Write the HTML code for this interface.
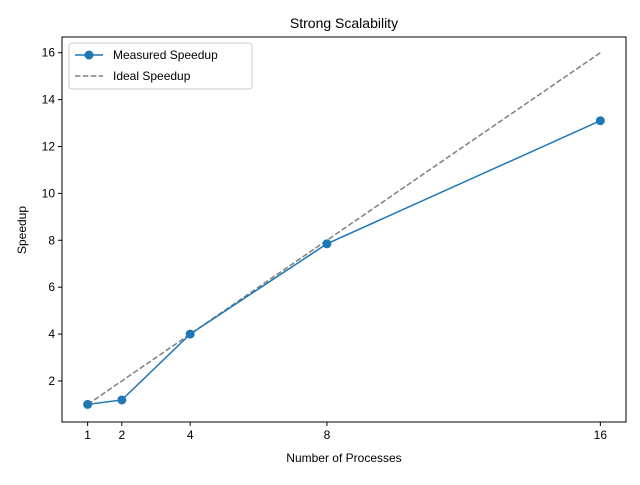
<!DOCTYPE html>
<html><head><meta charset="utf-8"><style>body{margin:0;background:#fff}svg{font-family:"Liberation Sans","DejaVu Sans",sans-serif}</style></head>
<body>
<svg id="c" width="640" height="480"></svg>
<script>
const procs=[1,2,4,8,16];
const measured=[1.0,1.19,4.0,7.85,13.1];
const ideal=[1,16];
const xTicks=[1,2,4,8,16];
const yTicks=[2,4,6,8,10,12,14,16];
const L=62,R=626,T=37,B=422,xmin=0.25,xmax=16.75,ymin=0.25,ymax=16.67;
const sx=v=>L+(v-xmin)/(xmax-xmin)*(R-L);
const sy=v=>B-(v-ymin)/(ymax-ymin)*(B-T);
const svg=document.getElementById('c');const NS='http://www.w3.org/2000/svg';
function el(t,a,p){const e=document.createElementNS(NS,t);for(const k in a)e.setAttribute(k,a[k]);(p||svg).appendChild(e);return e;}
let t=el('text',{x:344,y:28,'font-size':14,'text-anchor':'middle'});t.textContent='Strong Scalability';

xTicks.forEach(v=>{const x=sx(v);el('line',{x1:x,x2:x,y1:B,y2:B+4,stroke:'#000'});const tx=el('text',{x:x,y:B+17,'font-size':12,'text-anchor':'middle'});tx.textContent=v;
});
yTicks.forEach(v=>{const y=sy(v);el('line',{x1:L-4,x2:L,y1:y,y2:y,stroke:'#000'});const tx=el('text',{x:L-7,y:y+4,'font-size':12,'text-anchor':'end'});tx.textContent=v;
});
t=el('text',{x:344,y:462,'font-size':12,'text-anchor':'middle'});t.textContent='Number of Processes';

t=el('text',{x:26,y:230,'font-size':12,'text-anchor':'middle',transform:'rotate(-90 26 230)'});t.textContent='Speedup';

let il=el('line',{x1:sx(ideal[0]),y1:sy(ideal[0]),x2:sx(ideal[1]),y2:sy(ideal[1]),stroke:'#7f7f7f','stroke-width':1.5,'stroke-dasharray':'5.5,2.4'});

let ml=el('polyline',{points:procs.map((p,i)=>sx(p)+','+sy(measured[i])).join(' '),fill:'none',stroke:'#1f77b4','stroke-width':1.5});

procs.forEach((p,i)=>{const c=el('circle',{cx:sx(p),cy:sy(measured[i]),r:4.5,fill:'#1f77b4'});
});
el('rect',{x:L,y:T,width:R-L,height:B-T,fill:'none',stroke:'#000','stroke-width':1});
const lg=el('g',{});
el('rect',{x:69,y:43,width:183,height:46,rx:3,fill:'#fff',stroke:'#ccc'},lg);
el('line',{x1:75,x2:103,y1:55,y2:55,stroke:'#1f77b4','stroke-width':1.5},lg);
el('circle',{cx:89,cy:55,r:4.5,fill:'#1f77b4'},lg);
t=el('text',{x:113,y:59,'font-size':12},lg);t.textContent='Measured Speedup';

el('line',{x1:75,x2:103,y1:76,y2:76,stroke:'#7f7f7f','stroke-width':1.5,'stroke-dasharray':'5.5,2.4'},lg);
t=el('text',{x:113,y:80,'font-size':12},lg);t.textContent='Ideal Speedup';

</script>
</body></html>
